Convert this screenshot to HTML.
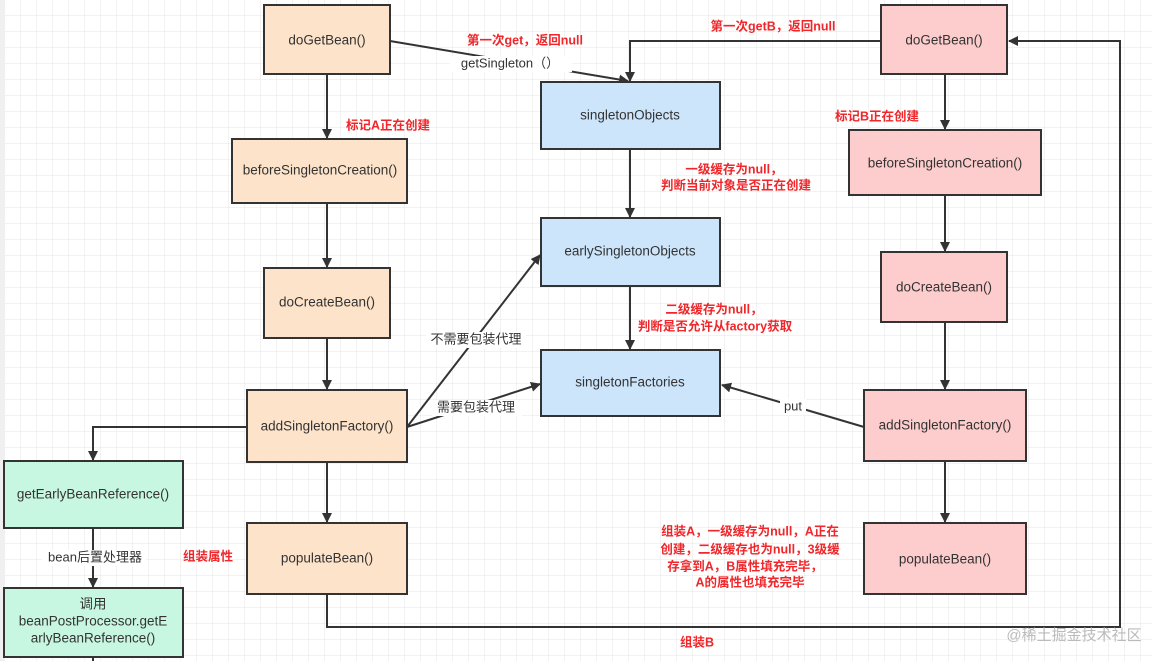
<!DOCTYPE html>
<html><head><meta charset="utf-8">
<style>
html,body{margin:0;padding:0;width:1152px;height:661px;overflow:hidden;background:#fff}
svg{display:block}
text{font-family:"Liberation Sans","Noto Sans CJK SC",sans-serif}
.n{font-size:13.5px;fill:#333;text-anchor:middle;dominant-baseline:middle}
.r{font-size:12.5px;fill:#f0262a;font-weight:bold;text-anchor:middle;dominant-baseline:middle}
.g{font-size:13px;fill:#333;text-anchor:middle;dominant-baseline:middle}
.l{stroke:#333;stroke-width:2;fill:none}
</style></head><body>
<svg width="1152" height="661" viewBox="0 0 1152 661">
<defs>
<pattern id="grid" width="16" height="16" patternUnits="userSpaceOnUse" x="5" y="0">
<path d="M16 0V16M0 16H16" stroke="#e6e6e6" stroke-width="1" fill="none"/>
</pattern>
<marker id="a" markerWidth="10" markerHeight="10" refX="9" refY="5" orient="auto" markerUnits="userSpaceOnUse">
<path d="M0,0 L10,5 L0,10 z" fill="#333"/>
</marker>
</defs>
<rect width="1152" height="661" fill="url(#grid)"/>
<rect x="0" y="0" width="5" height="661" fill="#f0f0f0"/>

<g class="l">
<path d="M390,41 L628,81" marker-end="url(#a)"/>
<path d="M881,41 H630 V81" marker-end="url(#a)"/>
<path d="M327,594 V627 H1120 V41 H1009" marker-end="url(#a)"/>
<path d="M327,74 V138" marker-end="url(#a)"/>
<path d="M327,203 V267" marker-end="url(#a)"/>
<path d="M327,338 V389" marker-end="url(#a)"/>
<path d="M327,462 V522" marker-end="url(#a)"/>
<path d="M247,427 H93 V460" marker-end="url(#a)"/>
<path d="M93,528 V587" marker-end="url(#a)"/>
<path d="M93,657 V661"/>
<path d="M407,427 L540,255" marker-end="url(#a)"/>
<path d="M407,427 L540,384" marker-end="url(#a)"/>
<path d="M630,149 V217" marker-end="url(#a)"/>
<path d="M630,286 V349" marker-end="url(#a)"/>
<path d="M864,427 L722,385" marker-end="url(#a)"/>
<path d="M945,74 V129" marker-end="url(#a)"/>
<path d="M945,195 V251" marker-end="url(#a)"/>
<path d="M945,322 V389" marker-end="url(#a)"/>
<path d="M945,461 V522" marker-end="url(#a)"/>
</g>

<g stroke="#333" stroke-width="2">
<rect x="264" y="5" width="126" height="69" fill="#fde3c9"/>
<rect x="232" y="139" width="175" height="64" fill="#fde3c9"/>
<rect x="264" y="268" width="126" height="70" fill="#fde3c9"/>
<rect x="247" y="390" width="160" height="72" fill="#fde3c9"/>
<rect x="247" y="523" width="160" height="71" fill="#fde3c9"/>
<rect x="4" y="461" width="179" height="67" fill="#c8f7e1"/>
<rect x="4" y="588" width="179" height="69" fill="#c8f7e1"/>
<rect x="541" y="82" width="179" height="67" fill="#cce5fb"/>
<rect x="541" y="218" width="179" height="68" fill="#cce5fb"/>
<rect x="541" y="350" width="179" height="66" fill="#cce5fb"/>
<rect x="881" y="5" width="126" height="69" fill="#fdcccc"/>
<rect x="849" y="130" width="192" height="65" fill="#fdcccc"/>
<rect x="881" y="252" width="126" height="70" fill="#fdcccc"/>
<rect x="864" y="390" width="162" height="71" fill="#fdcccc"/>
<rect x="864" y="523" width="162" height="71" fill="#fdcccc"/>
</g>

<text class="n" x="327" y="41">doGetBean()</text>
<text class="n" x="320" y="171">beforeSingletonCreation()</text>
<text class="n" x="327" y="303">doCreateBean()</text>
<text class="n" x="327" y="427">addSingletonFactory()</text>
<text class="n" x="327" y="559">populateBean()</text>
<text class="n" x="93" y="495">getEarlyBeanReference()</text>
<text class="n" x="93" y="605">调用</text>
<text class="n" x="93" y="622">beanPostProcessor.getE</text>
<text class="n" x="93" y="639">arlyBeanReference()</text>
<text class="n" x="630" y="116">singletonObjects</text>
<text class="n" x="630" y="252">earlySingletonObjects</text>
<text class="n" x="630" y="383">singletonFactories</text>
<text class="n" x="944" y="41">doGetBean()</text>
<text class="n" x="945" y="164">beforeSingletonCreation()</text>
<text class="n" x="944" y="288">doCreateBean()</text>
<text class="n" x="945" y="426">addSingletonFactory()</text>
<text class="n" x="945" y="560">populateBean()</text>

<rect x="450" y="56" width="122" height="16" fill="#fff"/>
<text class="g" x="510" y="64">getSingleton（）</text>
<rect x="426" y="332" width="100" height="16" fill="#fff"/>
<text class="g" x="476" y="340">不需要包装代理</text>
<rect x="432" y="400" width="90" height="16" fill="#fff"/>
<text class="g" x="476" y="408">需要包装代理</text>
<rect x="780" y="399" width="26" height="16" fill="#fff"/>
<text class="g" x="793" y="407">put</text>
<rect x="42" y="550" width="104" height="16" fill="#fff"/>
<text class="g" x="95" y="558">bean后置处理器</text>

<text class="r" x="525" y="41">第一次get，返回null</text>
<text class="r" x="773" y="27">第一次getB，返回null</text>
<text class="r" x="388" y="126">标记A正在创建</text>
<text class="r" x="877" y="117">标记B正在创建</text>
<text class="r" x="734" y="170">一级缓存为null，</text>
<text class="r" x="736" y="186">判断当前对象是否正在创建</text>
<text class="r" x="714" y="310">二级缓存为null，</text>
<text class="r" x="715" y="327">判断是否允许从factory获取</text>
<text class="r" x="208" y="557">组装属性</text>
<text class="r" x="750" y="532">组装A，一级缓存为null，A正在</text>
<text class="r" x="750" y="550">创建，二级缓存也为null，3级缓</text>
<text class="r" x="745" y="567">存拿到A，B属性填充完毕，</text>
<text class="r" x="750" y="583">A的属性也填充完毕</text>
<text class="r" x="697" y="643">组装B</text>

<text x="1074" y="636" style="font-size:15px;fill:#bbb;text-anchor:middle;dominant-baseline:middle">@稀土掘金技术社区</text>
</svg>
</body></html>
